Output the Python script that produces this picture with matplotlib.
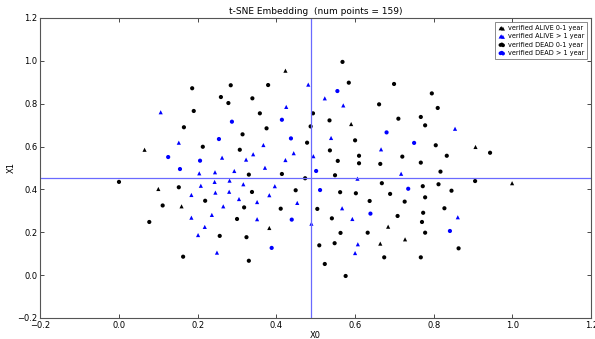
import matplotlib
matplotlib.use("Agg")
import matplotlib.pyplot as plt
import numpy as np

# verified ALIVE 0-1 year (black triangles)
alive_short_x = [0.423, 0.590, 0.065, 0.100, 0.159, 0.906, 0.999, 0.382, 0.684, 0.664, 0.727]
alive_short_y = [0.954, 0.705, 0.585, 0.402, 0.321, 0.598, 0.429, 0.220, 0.226, 0.147, 0.167]

# verified ALIVE > 1 year (blue triangles)
alive_long_x = [0.106, 0.481, 0.523, 0.425, 0.570, 0.854, 0.152, 0.262, 0.204, 0.244,
                0.293, 0.208, 0.243, 0.281, 0.316, 0.184, 0.245, 0.280, 0.305, 0.265,
                0.539, 0.367, 0.341, 0.444, 0.323, 0.423, 0.494, 0.371, 0.606, 0.396,
                0.382, 0.351, 0.453, 0.567, 0.666, 0.717, 0.184, 0.236, 0.218, 0.201,
                0.249, 0.351, 0.489, 0.593, 0.607, 0.600, 0.861]
alive_long_y = [0.760, 0.889, 0.825, 0.785, 0.792, 0.683, 0.618, 0.548, 0.475, 0.480,
                0.486, 0.417, 0.435, 0.441, 0.424, 0.374, 0.385, 0.389, 0.355, 0.321,
                0.640, 0.607, 0.564, 0.569, 0.539, 0.537, 0.555, 0.501, 0.450, 0.415,
                0.373, 0.341, 0.337, 0.312, 0.587, 0.473, 0.268, 0.281, 0.225, 0.187,
                0.105, 0.261, 0.240, 0.262, 0.144, 0.103, 0.270]

# verified DEAD 0-1 year (black circles)
dead_short_x = [0.186, 0.284, 0.259, 0.278, 0.190, 0.165, 0.568, 0.379, 0.584, 0.339,
                0.661, 0.358, 0.493, 0.535, 0.375, 0.487, 0.314, 0.699, 0.795, 0.810,
                0.710, 0.767, 0.778, 0.213, 0.307, 0.000, 0.152, 0.219, 0.111, 0.318,
                0.478, 0.600, 0.536, 0.610, 0.556, 0.610, 0.330, 0.414, 0.549, 0.473,
                0.338, 0.449, 0.562, 0.602, 0.637, 0.411, 0.504, 0.805, 0.720, 0.833,
                0.943, 0.664, 0.767, 0.817, 0.668, 0.905, 0.772, 0.812, 0.689, 0.845,
                0.778, 0.726, 0.827, 0.077, 0.300, 0.256, 0.163, 0.541, 0.324, 0.563,
                0.632, 0.509, 0.548, 0.330, 0.523, 0.576, 0.708, 0.773, 0.770, 0.778,
                0.863, 0.674, 0.767]
dead_short_y = [0.872, 0.886, 0.831, 0.803, 0.766, 0.690, 0.995, 0.887, 0.898, 0.825,
                0.797, 0.755, 0.755, 0.722, 0.685, 0.694, 0.657, 0.892, 0.848, 0.780,
                0.730, 0.738, 0.699, 0.599, 0.585, 0.435, 0.410, 0.347, 0.325, 0.316,
                0.618, 0.629, 0.582, 0.557, 0.533, 0.522, 0.469, 0.472, 0.466, 0.452,
                0.388, 0.396, 0.387, 0.382, 0.346, 0.310, 0.309, 0.606, 0.553, 0.557,
                0.571, 0.519, 0.525, 0.483, 0.429, 0.439, 0.415, 0.424, 0.379, 0.394,
                0.363, 0.343, 0.312, 0.248, 0.262, 0.183, 0.086, 0.265, 0.177, 0.197,
                0.198, 0.139, 0.149, 0.067, 0.052, -0.004, 0.276, 0.291, 0.248, 0.198,
                0.125, 0.083, 0.083]

# verified DEAD > 1 year (blue circles)
dead_long_x = [0.287, 0.555, 0.414, 0.680, 0.254, 0.125, 0.206, 0.155, 0.437, 0.501,
               0.511, 0.750, 0.735, 0.439, 0.639, 0.388, 0.841]
dead_long_y = [0.716, 0.859, 0.725, 0.666, 0.635, 0.551, 0.534, 0.495, 0.638, 0.486,
               0.397, 0.617, 0.403, 0.259, 0.287, 0.127, 0.206]

center_x = 0.487
center_y = 0.452
num_points = 159

fig = plt.figure(figsize=(5.95, 3.39), dpi=100)
ax = fig.add_axes([0.0677, 0.062, 0.9259, 0.885])

msize = 9
ax.scatter(alive_short_x, alive_short_y, marker="^", s=msize, c="black", edgecolors="none",
           label="verified ALIVE 0-1 year")
ax.scatter(alive_long_x, alive_long_y, marker="^", s=msize, c="blue", edgecolors="none",
           label="verified ALIVE > 1 year")
ax.scatter(dead_short_x, dead_short_y, marker="o", s=msize, c="black", edgecolors="none",
           label="verified DEAD 0-1 year")
ax.scatter(dead_long_x, dead_long_y, marker="o", s=msize, c="blue", edgecolors="none",
           label="verified DEAD > 1 year")

ax.axvline(center_x, color="#6a6aff", lw=0.9)
ax.axhline(center_y, color="#6a6aff", lw=0.9)

ax.set_xlim(-0.2, 1.2)
ax.set_ylim(-0.2, 1.2)
ax.set_xticks(np.arange(-0.2, 1.21, 0.2))
ax.set_yticks(np.arange(-0.2, 1.21, 0.2))
ax.tick_params(direction="in", top=True, right=True, labelsize=6, length=3, width=0.5, pad=2)
for sp in ax.spines.values():
    sp.set_linewidth(0.8)
    sp.set_color("#555555")

ax.set_xlabel("X0", fontsize=6, labelpad=1)
ax.set_ylabel("X1", fontsize=6, labelpad=1)
ax.set_title("t-SNE Embedding  (num points = %d)" % num_points, fontsize=6.5, pad=3)

leg = ax.legend(loc="upper right", scatterpoints=3, fontsize=4.7, frameon=True, fancybox=False,
                borderpad=0.5, labelspacing=0.35, handletextpad=0.4, handlelength=1.0,
                borderaxespad=0.6, markerscale=0.9)
leg.get_frame().set_edgecolor("#555555")
leg.get_frame().set_linewidth(0.6)

fig.savefig("out.png", dpi=100)
